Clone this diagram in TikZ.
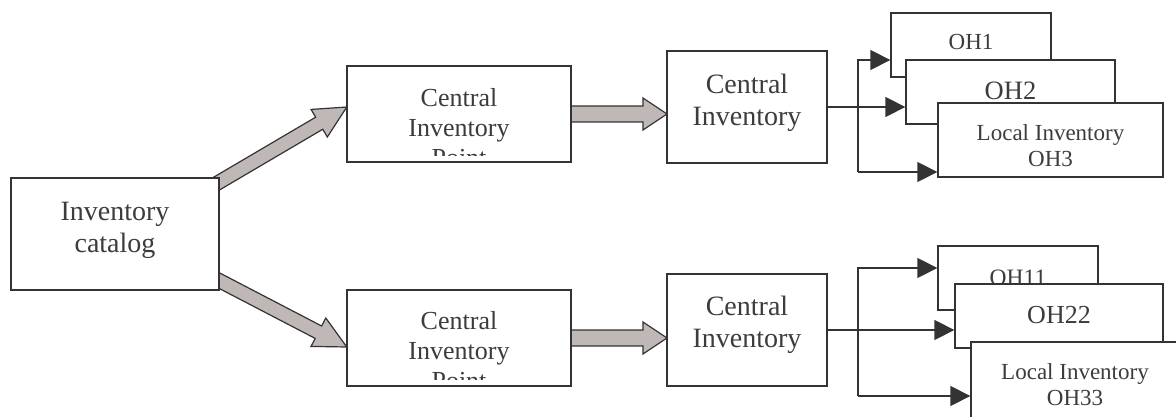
\documentclass[tikz,border=0pt]{standalone}
\usepackage{fontspec}
\setmainfont{Liberation Serif}
\usetikzlibrary{calc,arrows.meta}
\definecolor{ln}{RGB}{51,51,51}
\definecolor{tx}{RGB}{60,60,60}
\definecolor{ag}{RGB}{192,184,182}
% block arrow: #1 tail, #2 tip, #3 shaft half width, #4 head half width, #5 head length
\newcommand\myblockarrow[5]{%
  \path ($(#2)!#5!(#1)$) coordinate (bh);
  \draw[blk] ($(#1)!#3!90:(#2)$) -- ($(bh)!#3!90:(#2)$) -- ($(bh)!#4!90:(#2)$)
    -- (#2) -- ($(bh)!#4!-90:(#2)$) -- ($(bh)!#3!-90:(#2)$) -- ($(#1)!#3!-90:(#2)$) -- cycle;
}
\begin{document}
\begin{tikzpicture}[x=1pt,y=-1pt,
  box/.style={draw=ln, line width=1.3pt, fill=white, rectangle, inner sep=0pt},
  lbl/.style={text=tx, align=center, inner sep=0pt},
  conn/.style={draw=ln, line width=1.3pt},
  tipA/.style={-{Triangle[length=20pt,width=20pt]}},
  blk/.style={draw=ln, line width=1.2pt, fill=ag, line join=miter}
]
\useasboundingbox (0,0) rectangle (1176,417);

% node boxes (positions only)
\path (115,234) coordinate (catC) (459,114) coordinate (cipAC) (459,338) coordinate (cipBC);

% ---- thick grey arrows (drawn under boxes) ----
\node[minimum width=208pt, minimum height=112pt, inner sep=0pt] (catG) at (catC) {};
\node[minimum width=224pt, minimum height=96pt, inner sep=0pt] (cipAG) at (cipAC) {};
\node[minimum width=224pt, minimum height=96pt, inner sep=0pt] (cipBG) at (cipBC) {};
\coordinate (s1) at ($(catG.north east)+(-20,16)$);
\coordinate (t1) at ($(cipAG.west)+(0,-7)$);
\coordinate (s2) at ($(catG.south east)+(-18,-19)$);
\coordinate (t2) at ($(cipBG.west)+(0,9)$);
\myblockarrow{s1}{t1}{7pt}{16pt}{32pt}
\myblockarrow{s2}{t2}{7pt}{16pt}{32pt}

\coordinate (s3) at ($(cipAG.east)+(-6,0)$);
\coordinate (t3) at (cipAG.east -| 667,0);
\coordinate (s4) at ($(cipBG.east)+(-6,0)$);
\coordinate (t4) at (cipBG.east -| 667,0);
\myblockarrow{s3}{t3}{8pt}{16pt}{24pt}
\myblockarrow{s4}{t4}{8pt}{16pt}{24pt}

% ---- boxes ----
\node[box, minimum width=208pt, minimum height=112pt] (cat) at (catC) {};
\node[lbl, font=\fontsize{28}{32}\selectfont, anchor=north] (catT) at (115,201.5) {Inventory\\catalog};

\node[box, minimum width=224pt, minimum height=96pt] (cipA) at (cipAC) {};
\node[box, minimum width=224pt, minimum height=96pt] (cipB) at (cipBC) {};
\begin{scope}
  \clip ($(cipA.north west)+(1,1)$) rectangle ($(cipA.south east)+(-1,-7)$);
  \node[lbl, font=\fontsize{26}{30}\selectfont, anchor=north] (cipAT) at (459,88) {Central\\Inventory\\Point};
\end{scope}
\begin{scope}
  \clip ($(cipB.north west)+(1,1)$) rectangle ($(cipB.south east)+(-1,-7)$);
  \node[lbl, font=\fontsize{26}{30}\selectfont, anchor=north] (cipBT) at (459,311) {Central\\Inventory\\Point};
\end{scope}

\node[box, minimum width=160pt, minimum height=112pt] (ciA) at (747,107) {};
\node[lbl, font=\fontsize{28}{32}\selectfont, anchor=north] (ciAT) at (747,73.6) {Central\\Inventory};
\node[box, minimum width=160pt, minimum height=112pt] (ciB) at (747,330) {};
\node[lbl, font=\fontsize{28}{32}\selectfont, anchor=north] (ciBT) at (747,296) {Central\\Inventory};

% top OH stack
\node[box, minimum width=160pt, minimum height=64pt] (oh1) at (971,45) {};
\node[lbl, font=\fontsize{23}{27}\selectfont, anchor=base] (oh1T) at (971,49.3) {OH1};
\node[box, minimum width=209pt, minimum height=64pt] (oh2) at (1010.5,92) {};
\node[lbl, font=\fontsize{26.5}{30}\selectfont, anchor=base] (oh2T) at (1010.5,99.3) {OH2};
\node[box, minimum width=225pt, minimum height=74pt] (oh3) at (1050.5,140) {};
\node[lbl, font=\fontsize{23}{26}\selectfont, anchor=north] (oh3T) at (1050.5,124.3) {Local Inventory\\OH3};

% bottom OH stack
\node[box, minimum width=160pt, minimum height=64pt] (oh11) at (1018,278) {};
\node[lbl, font=\fontsize{23.5}{27}\selectfont, anchor=base] (oh11T) at (1018,285) {OH11};
\node[box, minimum width=208pt, minimum height=64pt] (oh22) at (1059,316) {};
\node[lbl, font=\fontsize{26}{30}\selectfont, anchor=base] (oh22T) at (1059,323.7) {OH22};
\node[box, minimum width=212pt, minimum height=80pt] (oh33) at (1077,382) {};
\node[lbl, font=\fontsize{23}{26}\selectfont, anchor=north] (oh33T) at (1075,363.6) {Local Inventory\\OH33};

% ---- thin connectors ----
\coordinate (ja) at (858,60);
\coordinate (jb) at (858,172);
\draw[conn, tipA] (ciA.east) -- (ciA.east -| oh2.west);
\draw[conn, tipA] (jb) -- (ja) -- (ja -| oh1.west);
\draw[conn, tipA] (jb) -- (jb -| oh3.west);

\coordinate (jc) at (858,268);
\coordinate (jd) at (858,396);
\draw[conn, tipA] (ciB.east) -- (ciB.east -| oh22.west);
\draw[conn, tipA] (jd) -- (jc) -- (jc -| oh11.west);
\draw[conn, tipA] (jd) -- (jd -| oh33.west);
\end{tikzpicture}
\end{document}
